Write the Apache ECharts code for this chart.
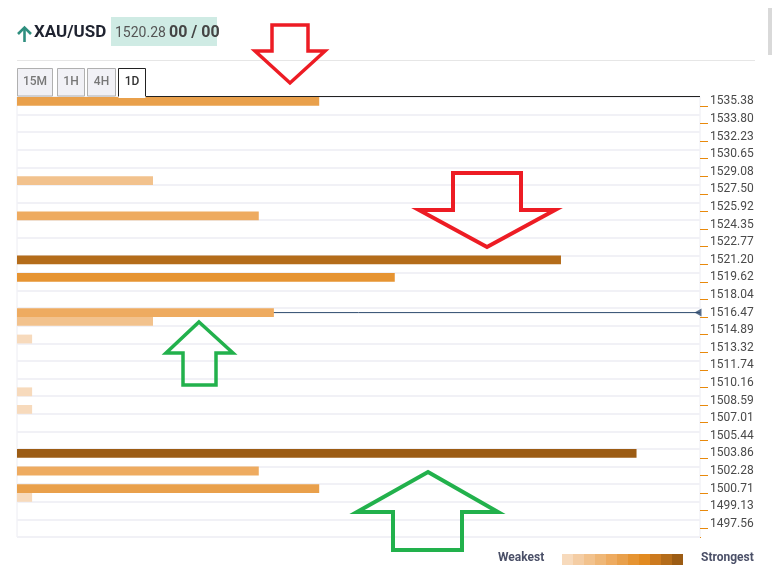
<!DOCTYPE html>
<html>
<head>
<meta charset="utf-8">
<script src="https://cdn.jsdelivr.net/npm/echarts@6/dist/echarts.min.js"></script>
<style>
html,body{margin:0;padding:0;background:#fff;}
#chart{width:772px;height:576px;}
</style>
</head>
<body>
<div id="chart"></div>
<script>
// ---- data ----
const symbolName = 'XAU/USD';
const lastPrice = '1520.28';
const bidAsk = '00 / 00';
const timeframes = ['15M', '1H', '4H', '1D'];
const tickLabels = ['1535.38','1533.80','1532.23','1530.65','1529.08','1527.50','1525.92','1524.35','1522.77','1521.20','1519.62','1518.04','1516.47','1514.89','1513.32','1511.74','1510.16','1508.59','1507.01','1505.44','1503.86','1502.28','1500.71','1499.13','1497.56'];
const rowCount = 50;
const barRows =     [0, 9, 13, 18, 20, 24, 25, 27, 33, 35, 40, 42, 44, 45];
const barStrength = [20, 9, 16, 36, 25, 17, 9, 1, 1, 1, 41, 16, 20, 1];
const currentRow = 24;
const maxStrength = 45.2;
const legendColors = ['#f7dabc','#f4cda4','#f2c28d','#efb777','#eeab60','#e9a04b','#e69432','#e28a20','#cc7a1f','#b46c1a','#9c5c14'];

// ---- build ----
function colorFor(s) { return legendColors[Math.min(10, Math.floor(s / 4))]; }
const rows = Array.from({length: rowCount}, (_, i) => String(i));
const barData = rows.map(() => '-');
barRows.forEach((r, k) => {
  barData[r] = { value: barStrength[k], itemStyle: { color: colorFor(barStrength[k]) } };
});

const FONT = 'Roboto';
const graphics = [];
// header
graphics.push({ type: 'polyline', shape: { points: [[24.5, 42], [24.5, 28]] }, style: { stroke: '#2f8f7f', lineWidth: 2.6, fill: null } });
graphics.push({ type: 'polyline', shape: { points: [[18, 34], [24.5, 27.5], [31, 34]] }, style: { stroke: '#2f8f7f', lineWidth: 2.6, fill: null } });
graphics.push({ type: 'text', x: 34, y: 33, style: { text: symbolName, font: 'bold 17px ' + FONT, fill: '#1f2330', verticalAlign: 'middle' } });
graphics.push({ type: 'rect', shape: { x: 111, y: 17, width: 106, height: 29 }, style: { fill: '#cfebe4' } });
graphics.push({ type: 'text', x: 115, y: 33, style: { text: lastPrice, font: '14px ' + FONT, fill: '#555', verticalAlign: 'middle' } });
graphics.push({ type: 'text', x: 169, y: 33, style: { text: bidAsk, font: 'bold 16px ' + FONT, fill: '#444', verticalAlign: 'middle' } });
graphics.push({ type: 'line', shape: { x1: 17, y1: 60.5, x2: 755, y2: 60.5 }, style: { stroke: '#e6e6e6', lineWidth: 1 } });
graphics.push({ type: 'rect', shape: { x: 768, y: 8, width: 4, height: 47 }, style: { fill: '#d9d9d9' } });
// tabs
const tabX = [[17, 53], [57, 85], [87, 116], [118, 146]];
timeframes.forEach((t, i) => {
  const active = i === timeframes.length - 1;
  const [x0, x1] = tabX[i];
  graphics.push({ type: 'rect', shape: { x: x0 + 0.5, y: 68.5, width: x1 - x0 - 1, height: active ? 29 : 27.5 },
    style: { fill: active ? '#fff' : '#f1f1f6', stroke: active ? '#222' : '#b0b0b0', lineWidth: 1 }, z: active ? 2 : 1 });
  graphics.push({ type: 'text', x: (x0 + x1) / 2, y: 82, z: 3,
    style: { text: t, font: '500 12px ' + FONT, fill: active ? '#333' : '#777', align: 'center', verticalAlign: 'middle' } });
});
graphics.push({ type: 'line', shape: { x1: 146, y1: 96.5, x2: 700, y2: 96.5 }, style: { stroke: '#222', lineWidth: 1 }, z: 5 });
graphics.push({ type: 'rect', shape: { x: 118.5, y: 96, width: 27, height: 2 }, style: { fill: '#fff' }, z: 4 });
// cover the closing band tick at the bottom of the right axis
graphics.push({ type: 'rect', shape: { x: 701, y: 534, width: 12, height: 6 }, style: { fill: '#fff' }, z: 30 });
// arrows
function arrow(points, color, w) {
  graphics.push({ type: 'polygon', shape: { points }, style: { stroke: color, lineWidth: w, fill: null, lineJoin: 'miter' }, z: 20 });
}
arrow([[272, 25], [308, 25], [308, 51], [325, 51], [290, 83], [255, 51], [272, 51]], '#ed1c24', 3.5);
arrow([[453, 173], [521, 173], [521, 210], [555, 210], [487, 247], [419, 210], [453, 210]], '#ed1c24', 4);
arrow([[199, 322], [233, 353], [216, 353], [216, 385], [183, 385], [183, 353], [166, 353]], '#22b14c', 3.5);
arrow([[428, 472], [498, 512], [462, 512], [462, 550], [393, 550], [393, 512], [357, 512]], '#22b14c', 4);
// legend
graphics.push({ type: 'text', x: 498, y: 558, style: { text: 'Weakest', font: 'bold 12px ' + FONT, fill: '#4b5068', verticalAlign: 'middle' } });
legendColors.forEach((c, i) => {
  graphics.push({ type: 'rect', shape: { x: 562 + i * 11, y: 554, width: 11, height: 11 }, style: { fill: c } });
});
graphics.push({ type: 'text', x: 701, y: 558, style: { text: 'Strongest', font: 'bold 12px ' + FONT, fill: '#4b5068', verticalAlign: 'middle' } });

const chart = echarts.init(document.getElementById('chart'), null, { renderer: 'canvas' });
chart.setOption({
  animation: false,
  backgroundColor: '#fff',
  textStyle: { fontFamily: FONT },
  grid: { left: 17, right: 72, top: 97, height: 440, show: true, borderColor: '#ececf2', borderWidth: 1, containLabel: false },
  xAxis: { type: 'value', min: 0, max: maxStrength, show: false },
  yAxis: [
    { type: 'category', data: rows, inverse: true, position: 'left',
      axisLine: { show: false }, axisTick: { show: false }, axisLabel: { show: false },
      splitLine: { show: true, lineStyle: { color: '#f1f1f6', width: 2 } } },
    { type: 'category', data: rows, inverse: true, position: 'right',
      axisLine: { show: false },
      axisTick: { show: true, length: 8, interval: (i) => i % 2 === 1, lineStyle: { color: '#e8890c', width: 1 } },
      axisLabel: { show: true, margin: 10, interval: (i) => i % 2 === 0, color: '#4a4a4a', fontSize: 12, fontFamily: FONT,
        formatter: (v, i) => (i % 2 === 0 ? tickLabels[i / 2] : '') },
      splitLine: { show: false } }
  ],
  series: [
    { type: 'line', yAxisIndex: 0, z: 1, showSymbol: false, silent: true,
      data: [[0, currentRow], [maxStrength, currentRow]], lineStyle: { color: '#2d4a6e', width: 1 } },
    { type: 'scatter', yAxisIndex: 0, z: 3, silent: true, symbol: 'triangle', symbolRotate: 90, symbolSize: [8, 7], symbolOffset: [-2, 0],
      data: [[maxStrength, currentRow]], itemStyle: { color: '#2d4a6e' } },
    { type: 'bar', yAxisIndex: 0, z: 2, data: barData, barWidth: '100%', barCategoryGap: 0, silent: true }
  ],
  graphic: { elements: graphics }
});
</script>
</body>
</html>
